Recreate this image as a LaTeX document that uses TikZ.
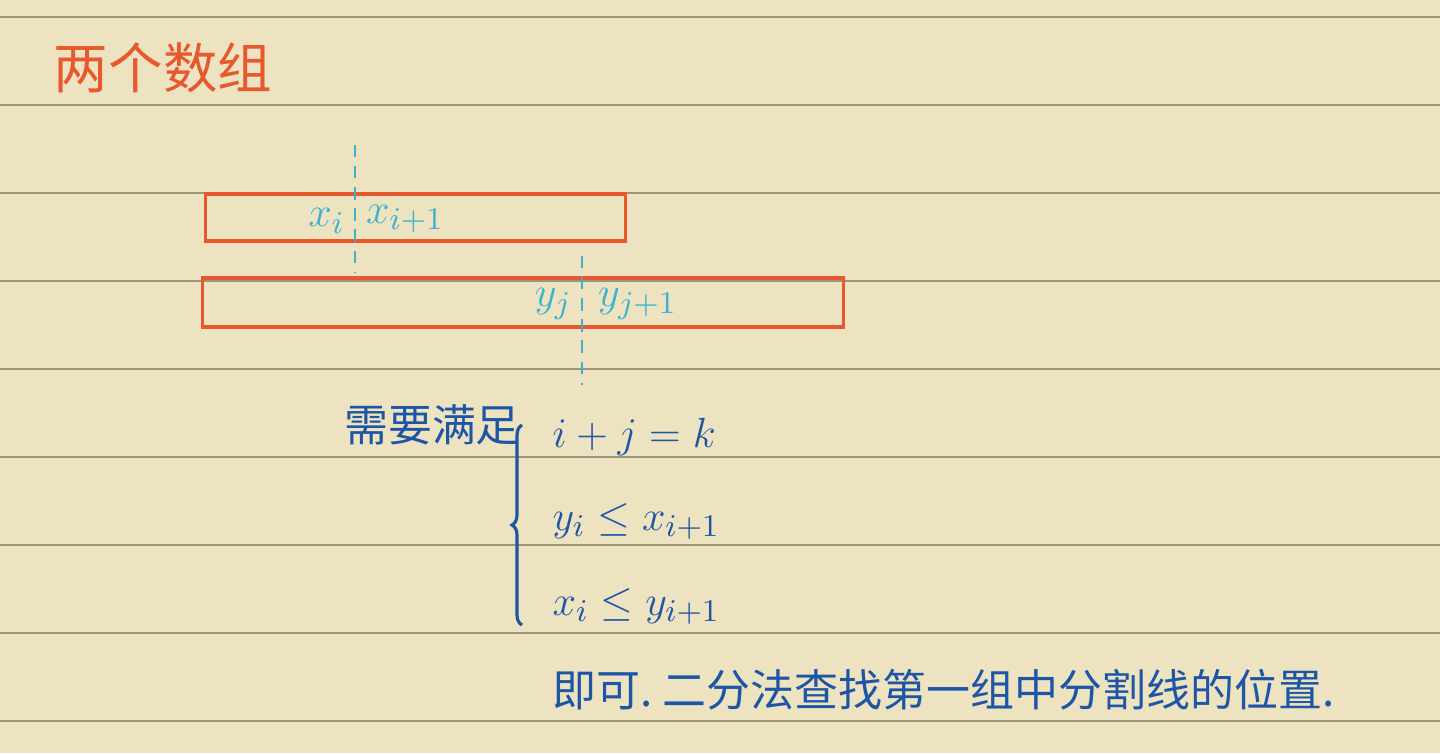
\documentclass[tikz,border=0pt]{standalone}
\usepackage{xcolor}
\usepackage{amsmath,amssymb}
\usepackage{fontspec}
\newfontfamily\cjk{Noto Sans CJK SC}
\usepackage{tikz}
\usetikzlibrary{positioning, decorations.pathreplacing, calc}

\definecolor{paper}{RGB}{237,227,193}
\definecolor{rule}{RGB}{155,149,128}
\definecolor{redink}{RGB}{232,88,46}
\definecolor{cyanink}{RGB}{58,178,208}
\definecolor{blueink}{RGB}{30,86,166}

\begin{document}
\begin{tikzpicture}[
  x=0.01cm, y=-0.01cm,
  title/.style={
    font=\cjk\fontsize{15.5}{18}\selectfont,
    text=redink,
    inner sep=0pt
  },
  arraybox/.style={
    draw=redink,
    line width=0.9pt,
    inner sep=0pt
  },
  cut/.style={draw=cyanink, line width=0.7pt, dash pattern=on 3.5pt off 2.5pt},
  idx/.style={font=\fontsize{13}{15}\selectfont, text=cyanink, inner sep=1pt},
  note/.style={font=\cjk\fontsize{12.5}{15}\selectfont, text=blueink, inner sep=0pt},
  cond/.style={font=\fontsize{13}{15}\selectfont, text=blueink, inner sep=0pt},
  brace/.style={draw=blueink, line width=0.9pt,
    decorate, decoration={brace, amplitude=0.1cm}}
]

% Paper and ruled lines.
\fill[paper] (0,0) rectangle (1440,753);
\useasboundingbox (0,0) rectangle (1440,753);
\foreach \k in {0,...,8}
  \draw[rule, line width=0.45pt] (0,17+88*\k) -- (1440,17+88*\k);

% Title.
\node[title] (title) at (163,68) {两个数组};

% The two arrays.
\node[arraybox, minimum width=4.19cm, minimum height=0.47cm] (xarr) at (415.5,217.5) {};
\node[arraybox, minimum width=6.40cm, minimum height=0.49cm] (yarr) at (523,302.5) {};

% Split lines.
\coordinate (xcut top) at (355,145);
\coordinate (xcut bot) at (355,272);
\coordinate (ycut top) at (582,256);
\coordinate (ycut bot) at (582,385);
\draw[cut] (xcut top) -- (xcut bot);
\draw[cut] (ycut top) -- (ycut bot);

\node[idx, anchor=east] (xi) at (349,221) {$x_i$};
\node[idx, anchor=west] (xnext) at (362,219) {$x_{i+1}$};
\node[idx, anchor=east] (yj) at (576,304) {$y_j$};
\node[idx, anchor=west] (ynext) at (594,304) {$y_{j+1}$};

% Conditions.
\node[note] (need) at (432,425) {需要满足};
\node[cond, anchor=base west] (c1) at (552,447) {$i+j = k$};
\node[cond, anchor=base west] (c2) at (552,530) {$y_i \leq x_{i+1}$};
\node[cond, anchor=base west] (c3) at (552,615) {$x_i \leq y_{i+1}$};

\coordinate (brace bot) at (522,625);
\coordinate (brace top) at (522,425);
\draw[brace] (brace bot) -- (brace top);

\node[note, anchor=west] (result) at (552,690) {即可.\ 二分法查找第一组中分割线的位置.};

\end{tikzpicture}
\end{document}
